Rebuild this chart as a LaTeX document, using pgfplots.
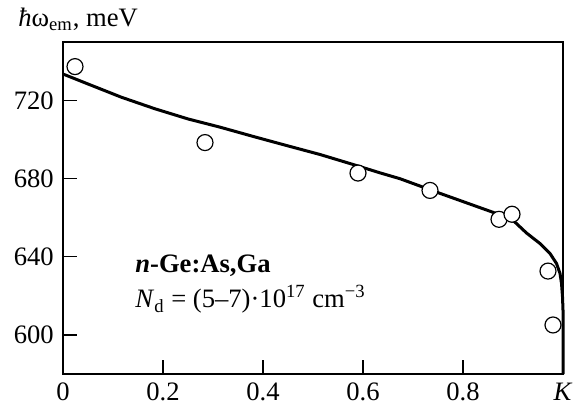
\documentclass[border=0pt]{standalone}
\usepackage{fontspec}
\setmainfont{Liberation Serif}
\usepackage{pgfplots}
\pgfplotsset{compat=1.18}

\begin{document}
\fontsize{13.3bp}{16bp}\selectfont
\begin{tikzpicture}
% invisible frame so the margins match the reference (1 px = 0.5 bp)
\path (-31.5bp,-19bp) rectangle (260bp,187bp);
\begin{axis}[
    scale only axis,
    width=250bp,
    height=166bp,
    xmin=0, xmax=1,
    ymin=580, ymax=750,
    xtick={0,0.2,0.4,0.6,0.8,1},
    xticklabels={0,0.2,0.4,0.6,0.8,\textit{K}},
    ytick={600,640,680,720},
    tick pos=left,
    tick align=inside,
    major tick length=7bp,
    axis line style={line width=0.7bp},
    tick style={line width=0.6bp, black},
    /pgf/number format/assume math mode=true,
    /pgf/number format/1000 sep={},
    clip=false,
]
% fitted curve
\addplot[black, line width=1.5bp, line join=round] coordinates {
(0.000,733.6) (0.050,728.5) (0.117,721.7) (0.184,715.8) (0.250,710.6)
(0.314,706.4) (0.381,701.6) (0.447,697.0) (0.514,692.4) (0.580,687.3)
(0.634,683.0) (0.674,680.0) (0.754,672.5) (0.860,662.8) (0.900,658.7)
(0.927,652.2) (0.954,646.8) (0.974,641.7) (0.987,636.6) (0.994,631.5)
(0.997,626.4) (0.999,619.6) (1.000,612.7) (1.000,580.0)
};
% measured points
\addplot[only marks, mark=*, mark size=4bp,
    mark options={draw=black, fill=white, line width=0.6bp}] coordinates {
(0.024,737.4) (0.284,698.5) (0.590,682.9) (0.734,674.0)
(0.872,659.2) (0.898,661.8) (0.970,632.7) (0.980,605.1)
};
\node[anchor=base west, inner sep=0pt] at (rel axis cs:-0.09,1.048)
    {\textit{ħ}ω\textsubscript{em}, meV};
\node[anchor=base west, inner sep=0pt] at (rel axis cs:0.144,0.307)
    {\textbf{\textit{n}-Ge:As,Ga}};
\node[anchor=base west, inner sep=0pt] at (rel axis cs:0.144,0.199)
    {\textit{N}\textsubscript{d} = (5–7)·10\textsuperscript{17} cm\textsuperscript{−3}};
\end{axis}
\end{tikzpicture}
\end{document}
